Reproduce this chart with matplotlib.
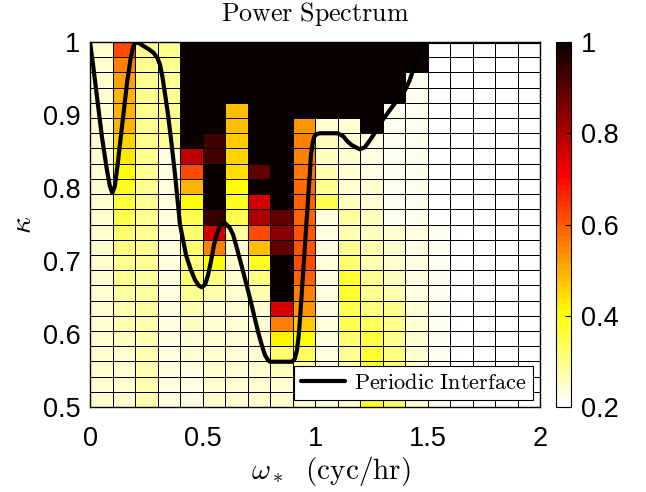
# power spectrum over (omega, kappa) with the periodic interface drawn on top
import matplotlib
matplotlib.use("Agg")
import matplotlib.pyplot as plt
import numpy as np

plt.rcParams.update({
    "font.family": "sans-serif",
    "font.sans-serif": ["Liberation Sans", "DejaVu Sans"],
    "mathtext.fontset": "cm",
})

# cell edges of the grid (20 columns in omega, 24 rows in kappa)
omega_edges = np.linspace(0, 2, 21)
kappa_edges = np.linspace(0.5, 1, 25)

# normalised power, one list per kappa row, top row (kappa near 1) first
power_rows = [
    [.25, .62, .30, .30, 1, 1, 1, 1, 1, 1, 1, 1, 1, 1, 1, .20, .20, .20, .20, .20],
    [.25, .56, .30, .30, 1, 1, 1, 1, 1, 1, 1, 1, 1, 1, 1, .20, .20, .20, .20, .20],
    [.25, .52, .30, .30, 1, 1, 1, 1, 1, 1, 1, 1, 1, 1, .215, .21, .20, .20, .20, .20],
    [.25, .50, .30, .30, 1, 1, 1, 1, 1, 1, 1, 1, 1, 1, .215, .21, .20, .20, .20, .20],
    [.25, .50, .30, .30, 1, 1, .48, 1, 1, 1, 1, 1, 1, .22, .215, .21, .20, .20, .20, .20],
    [.25, .49, .30, .30, 1, 1, .48, 1, 1, .53, .25, .24, 1, .225, .215, .21, .205, .20, .20, .20],
    [.25, .46, .30, .30, 1, .925, .47, 1, 1, .56, .26, .24, .23, .225, .215, .21, .205, .20, .20, .20],
    [.25, .43, .30, .235, .78, .925, .46, 1, 1, .56, .26, .24, .23, .225, .215, .21, .205, .20, .20, .20],
    [.25, .40, .30, .235, .62, 1, .44, .89, 1, .57, .27, .24, .235, .225, .215, .21, .205, .20, .20, .20],
    [.25, .38, .30, .235, .50, 1, .41, 1, 1, .58, .29, .25, .24, .225, .215, .21, .205, .20, .20, .20],
    [.25, .36, .30, .235, .41, 1, .38, .76, 1, .59, .35, .26, .25, .225, .215, .21, .205, .20, .20, .20],
    [.25, .34, .30, .235, .34, .94, .35, .80, .90, .60, .23, .28, .26, .225, .215, .21, .205, .20, .20, .20],
    [.25, .32, .29, .235, .32, .76, .28, .62, .84, .61, .23, .27, .26, .24, .23, .22, .21, .205, .205, .20],
    [.25, .31, .29, .235, .32, .56, .25, .48, .90, .61, .23, .30, .27, .25, .23, .22, .21, .205, .205, .20],
    [.25, .30, .29, .235, .31, .41, .24, .38, 1, .62, .23, .32, .27, .25, .23, .22, .21, .205, .205, .20],
    [.25, .29, .28, .235, .32, .31, .24, .31, 1, .60, .23, .37, .29, .26, .23, .22, .21, .205, .205, .20],
    [.25, .28, .28, .235, .29, .27, .24, .27, 1, .56, .23, .37, .30, .27, .23, .22, .21, .205, .205, .20],
    [.25, .27, .28, .235, .27, .25, .24, .24, .76, .53, .23, .35, .31, .29, .25, .22, .21, .205, .205, .20],
    [.25, .27, .27, .235, .26, .25, .24, .24, .55, .475, .23, .35, .33, .29, .25, .22, .21, .205, .205, .20],
    [.25, .26, .27, .235, .25, .25, .24, .24, .42, .40, .23, .32, .36, .30, .25, .22, .21, .205, .205, .20],
    [.25, .25, .27, .235, .24, .25, .24, .24, .32, .33, .23, .30, .37, .31, .25, .22, .21, .205, .205, .20],
    [.25, .24, .27, .235, .23, .25, .24, .24, .26, .27, .23, .27, .37, .32, .25, .22, .21, .205, .205, .20],
    [.25, .24, .27, .235, .23, .25, .24, .24, .25, .25, .23, .25, .38, .32, .25, .22, .21, .205, .205, .20],
    [.25, .24, .27, .235, .23, .25, .24, .24, .25, .25, .23, .25, .38, .33, .25, .22, .21, .205, .205, .20],
]

# periodic interface curve
iface_omega = [0, 0.013, 0.031, 0.053, 0.075, 0.088, 0.099, 0.11, 0.122, 0.135, 0.15,
               0.165, 0.18, 0.192, 0.204, 0.22, 0.24, 0.262, 0.283, 0.3, 0.312, 0.322,
               0.333, 0.347, 0.362, 0.378, 0.4, 0.427, 0.448, 0.467, 0.484, 0.498,
               0.512, 0.524, 0.538, 0.551, 0.565, 0.578, 0.6, 0.622, 0.636, 0.649,
               0.675, 0.702, 0.725, 0.747, 0.765, 0.778, 0.79, 0.8, 0.898, 0.91, 0.92,
               0.927, 0.933, 0.942, 0.951, 0.96, 0.969, 0.976, 0.982, 0.99, 0.996,
               1.008, 1.022, 1.1, 1.125, 1.144, 1.162, 1.18, 1.2, 1.222, 1.25, 1.275,
               1.3, 1.35, 1.4, 1.42, 1.437, 1.453, 1.467, 1.48, 1.49, 1.505, 1.52, 2.0]
iface_kappa = [1.0, 0.97, 0.925, 0.87, 0.825, 0.803, 0.793, 0.802, 0.83, 0.865, 0.905,
               0.945, 0.976, 0.994, 1.0, 0.998, 0.994, 0.99, 0.985, 0.978, 0.968, 0.952,
               0.93, 0.9, 0.862, 0.818, 0.75, 0.708, 0.688, 0.674, 0.666, 0.664,
               0.668, 0.68, 0.7, 0.722, 0.738, 0.748, 0.752, 0.745, 0.736, 0.722,
               0.692, 0.66, 0.631, 0.603, 0.583, 0.571, 0.565, 0.562, 0.562, 0.566, 0.578,
               0.596, 0.619, 0.66, 0.701, 0.743, 0.784, 0.815, 0.845, 0.862, 0.87,
               0.874, 0.875, 0.875, 0.871, 0.864, 0.859, 0.856, 0.853, 0.856, 0.868, 0.88,
               0.893, 0.914, 0.934, 0.947, 0.962, 0.976, 0.989, 0.996, 0.999, 1.0, 1.0, 1.0]

x_ticks = [0, 0.5, 1, 1.5, 2]
x_ticklabels = ["0", "0.5", "1", "1.5", "2"]
y_ticks = [0.5, 0.6, 0.7, 0.8, 0.9, 1]
y_ticklabels = ["0.5", "0.6", "0.7", "0.8", "0.9", "1"]
cbar_ticks = [0.2, 0.4, 0.6, 0.8, 1]
cbar_ticklabels = ["0.2", "0.4", "0.6", "0.8", "1"]

power = np.flipud(np.array(power_rows))
cmap = matplotlib.colormaps["hot_r"].resampled(64)

fig = plt.figure(figsize=(6.46, 4.92), dpi=100)
ax = fig.add_axes([90 / 646, 85 / 492, 450 / 646, 365 / 492])
cax = fig.add_axes([556 / 646, 85 / 492, 15 / 646, 365 / 492])

mesh = ax.pcolormesh(omega_edges, kappa_edges, power, cmap=cmap, vmin=0.2, vmax=1,
                     edgecolors="black", linewidth=0.6)
ax.plot(iface_omega, iface_kappa, color="black", lw=3, solid_joinstyle="round",
        solid_capstyle="round", label=r"$\mathrm{Periodic\ Interface}$")

ax.set_xlim(0, 2)
ax.set_ylim(0.5, 1)
ax.set_xticks(x_ticks, x_ticklabels)
ax.set_yticks(y_ticks, y_ticklabels)
ax.tick_params(length=0, labelsize=19.5)
ax.tick_params(axis="x", pad=14)
ax.tick_params(axis="y", pad=7)
for s in ax.spines.values():
    s.set_linewidth(1.0)

ax.set_title(r"$\mathrm{Power\ Spectrum}$", fontsize=18.7, pad=15)
ax.set_xlabel(r"$\omega_*\ \ \mathrm{(cyc/hr)}$", fontsize=21)
ax.xaxis.set_label_coords(0.535, -0.13)
ax.set_ylabel(r"$\kappa$", fontsize=21, labelpad=4)

leg = ax.legend(loc="lower right", bbox_to_anchor=(1.0, 0.0), fontsize=16, frameon=True,
                fancybox=False, framealpha=1, edgecolor="black", handlelength=2.0,
                borderpad=0.3, handletextpad=0.4, borderaxespad=0.3)
leg.get_frame().set_linewidth(0.8)

cb = fig.colorbar(mesh, cax=cax)
cb.set_ticks(cbar_ticks, labels=cbar_ticklabels)
cb.ax.tick_params(labelsize=19.5, length=4, direction="in", width=0.8, pad=7)
cb.outline.set_linewidth(0.8)

fig.savefig("out.png", dpi=100)
